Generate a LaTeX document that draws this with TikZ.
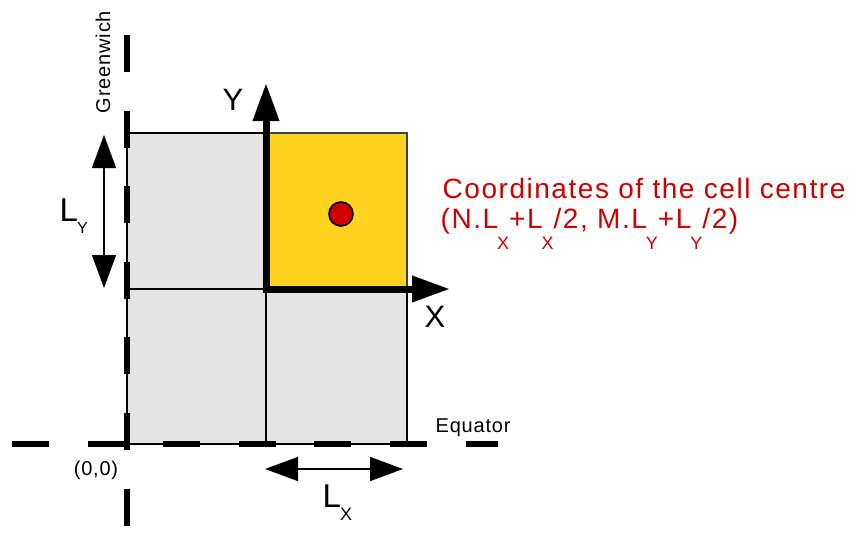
\documentclass[tikz,border=0pt]{standalone}
\usepackage{fontspec}
\setmainfont{Liberation Sans}[LetterSpace=4]
\usetikzlibrary{arrows.meta}
\newcommand{\lowsub}[3]{\kern-0.5pt\raisebox{-#1}{\fontsize{#2}{#2}\selectfont #3}}

\begin{document}
\begin{tikzpicture}[x=0.5pt, y=0.5pt, line width=0.7pt,
  >={Triangle[length=19pt, width=12.5pt]},
  cell/.style={draw=black, fill=cellgrey},
  hcell/.style={draw=black!75, fill=cellyel},
  meridian/.style={line width=3.3pt, dash pattern=on 18.5pt off 19.3pt},
  axis/.style={<->, line width=3.5pt},
  span/.style={{Triangle[length=16.5pt, width=12pt]}-{Triangle[length=16.5pt, width=12pt]}, line width=0.7pt},
  dot/.style={circle, draw=black, fill=centrered, line width=0.8pt, minimum size=12pt, inner sep=0pt},
  lab/.style={inner sep=0pt, font=\fontsize{10}{12}\selectfont},
  axlab/.style={inner sep=0pt, anchor=base, font=\fontsize{15.5}{18}\selectfont},
  llab/.style={inner sep=0pt, anchor=base west, font=\fontsize{16.5}{18}\selectfont},
  rlab/.style={inner sep=0pt, anchor=base west, text=centrered, font=\fontsize{14}{15}\selectfont\addfontfeature{LetterSpace=5.5}},
]
\definecolor{cellgrey}{HTML}{E4E4E4}
\definecolor{cellyel}{HTML}{FFD320}
\definecolor{centrered}{HTML}{CC0000}
\useasboundingbox (0,0) rectangle (856,532);

% ---------------- grid of cells ----------------
\coordinate (a00) at (127,88);
\coordinate (a10) at (266,88);
\coordinate (a20) at (407,88);
\coordinate (a01) at (127,243);
\coordinate (a11) at (266,243);
\coordinate (a21) at (407,243);
\coordinate (a02) at (127,399);
\coordinate (a12) at (266,399);
\coordinate (a22) at (407,399);
\draw[cell] (a00) rectangle (a11);
\draw[cell] (a10) rectangle (a21);
\draw[cell] (a01) rectangle (a12);
\draw[hcell] (a11) rectangle (a22);

% ---------------- Greenwich and Equator ----------------
\coordinate (gtop) at (127,497);
\coordinate (gbot) at (127,0);
\coordinate (eqw) at (12,88);
\coordinate (eqe) at (498,88);
\draw[meridian] (gtop) -- (gbot);
\draw[meridian] (eqw) -- (eqe);
\node[lab, rotate=90] (greenwich) at (103,470) {Greenwich};
\node[lab, anchor=base west] (equator) at (435,100) {Equator};
\node[lab] (origin) at (96,62) {(0,0)};

% ---------------- local axes of the cell ----------------
\coordinate (ytip) at (266,449);
\coordinate (xtip) at (450,243);
\draw[axis] (ytip) -- (a11) -- (xtip);
\node[axlab] (ylab) at (233,422) {Y};
\node[axlab] (xlab) at (435,205) {X};
\node[dot] (centre) at (341,318) {};

% ---------------- cell sizes ----------------
\coordinate (lytop) at (104,397);
\coordinate (lybot) at (104,244);
\coordinate (lxl) at (265,63);
\coordinate (lxr) at (403,63);
\draw[span] (lytop) -- (lybot);
\draw[span] (lxl) -- (lxr);
\node[llab] (ly) at (59,311) {L\lowsub{6pt}{8}{Y}};
\node[llab] (lx) at (322,25) {L\lowsub{6.5pt}{9}{X}};

% ---------------- coordinates of the centre ----------------
\node[rlab] (ctitle) at (442,334) {Coordinates of the cell centre};
\node[rlab] (cform) at (440,304) {(N.L\lowsub{10.5pt}{9}{X}+L\lowsub{10.5pt}{9}{X}/2, M.L\lowsub{10.5pt}{9}{Y}+L\lowsub{10.5pt}{9}{Y}/2)};
\end{tikzpicture}
\end{document}
